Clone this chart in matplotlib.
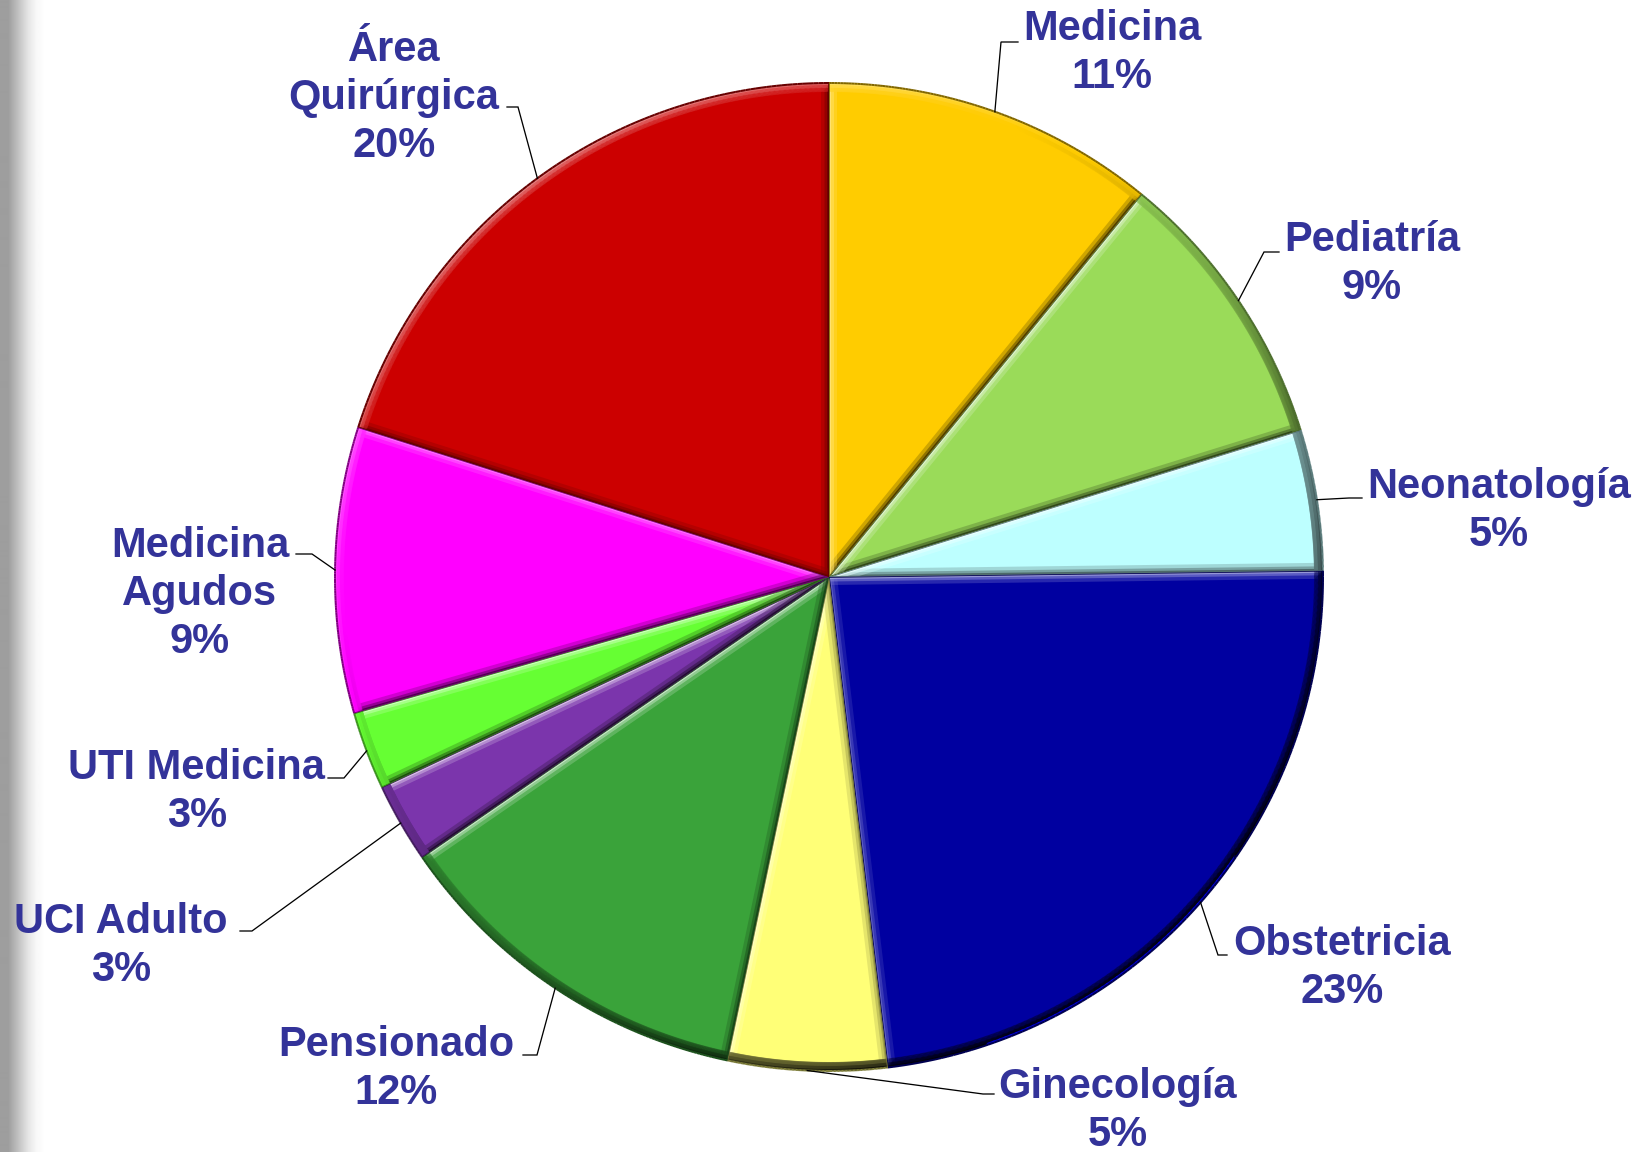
import numpy as np
import matplotlib
matplotlib.use('Agg')
import matplotlib.pyplot as plt
from matplotlib.collections import LineCollection
from matplotlib.colors import to_rgb

# ---------------- data ----------------
categories = ['Medicina', 'Pediatría', 'Neonatología', 'Obstetricia', 'Ginecología',
              'Pensionado', 'UCI Adulto', 'UTI Medicina', 'Medicina\nAgudos', 'Área\nQuirúrgica']
values = [10.9, 9.3, 4.6, 23.3, 5.2, 12.1, 2.6, 2.55, 9.35, 20.1]
colors = ['#FFCC00', '#9ADB59', '#BDFFFF', '#0000A0', '#FFFF77',
          '#3AA33A', '#7B35AC', '#66FF33', '#FF00FF', '#CC0000']

# ---------------- layout (pixels, y from top) ----------------
label_xy = [(1112, 53), (1372, 264), (1499, 511), (1342, 968), (1118, 1111),
            (396, 1069), (121, 946), (197, 792), (200, 594), (394, 98)]
leader_elbow = [(1001, 42), (1264, 252), (1349, 498), (1218, 955), (983, 1094),
                (537, 1055), (252, 931), (344, 778), (312, 554), (518, 107)]
leader_end = [(1018, 42), (1279, 252), (1362, 498), (1227, 955), (994, 1094),
              (523, 1055), (240, 931), (328, 778), (296, 554), (507, 107)]

W, H = 1649, 1152
DPI = 100
PX = 72.0 / DPI  # points per pixel

fig = plt.figure(figsize=(W / DPI, H / DPI), dpi=DPI)
fig.patch.set_facecolor('white')
ax = fig.add_axes([0, 0, 1, 1])

cx, cy, R = 829, H - 577, 494

wedges, _ = ax.pie(values, colors=colors, startangle=90, counterclock=False,
                   center=(cx, cy), radius=R,
                   wedgeprops=dict(linewidth=0))
ax.set_xlim(0, W)
ax.set_ylim(0, H)
ax.set_aspect('equal')
ax.axis('off')

# left gray strip
prof = np.interp(np.arange(46), [0, 8, 18, 28, 36, 45], [0.62, 0.62, 0.76, 0.9, 0.97, 1.0])
ax.imshow(np.tile(prof, (2, 1)), cmap='gray', vmin=0, vmax=1, extent=[0, 46, 0, H],
          aspect='auto', zorder=0, interpolation='bilinear')

# ---------------- bevel shading ----------------
Lvec = np.array([-0.6, 0.8])


def shade(color, k):
    c = np.array(to_rgb(color))
    if k > 0:
        return tuple(c + (1 - c) * k)
    return tuple(c * (1 + k))


for w, col in zip(wedges, colors):
    t1, t2 = np.deg2rad(w.theta1), np.deg2rad(w.theta2)
    # radial edges
    for t, sgn in ((t1, -1), (t2, 1)):
        n_out = np.array([np.cos(t + sgn * np.pi / 2), np.sin(t + sgn * np.pi / 2)])
        k = float(np.dot(n_out, Lvec))
        p0 = (cx, cy)
        p1 = (cx + R * np.cos(t), cy + R * np.sin(t))
        for lw, a, kk in ((16, 0.35, 0.55 * k), (9, 0.5, 0.7 * k), (4, 0.7, 0.85 * k)):
            ln, = ax.plot([p0[0], p1[0]], [p0[1], p1[1]], color=shade(col, kk),
                          lw=lw * PX, alpha=a, solid_capstyle='butt', zorder=3)
            ln.set_clip_path(w)
        ln, = ax.plot([p0[0], p1[0]], [p0[1], p1[1]], color=shade(col, -0.55),
                      lw=1.6 * PX, zorder=4)
        ln.set_clip_path(w)
    # arc
    ts = np.linspace(t1, t2, 120)
    pts = np.column_stack([cx + R * np.cos(ts), cy + R * np.sin(ts)])
    segs = np.stack([pts[:-1], pts[1:]], axis=1)
    tm = (ts[:-1] + ts[1:]) / 2
    ks = np.cos(tm) * Lvec[0] + np.sin(tm) * Lvec[1]
    for lw, a, f in ((18, 0.35, 0.5), (10, 0.5, 0.65), (4, 0.75, 0.8)):
        cols = [shade(col, f * kk - 0.25) + (a,) for kk in ks]
        lc = LineCollection(segs, colors=cols, linewidths=lw * PX, zorder=3,
                            capstyle='round')
        ax.add_collection(lc)
        lc.set_clip_path(w)
    lc = LineCollection(segs, colors=[shade(col, -0.5)], linewidths=2.0 * PX, zorder=4)
    ax.add_collection(lc)

# ---------------- labels ----------------
total = sum(values)
for w, cat, v, (lx, ly), (ex, ey), (kx, ky) in zip(wedges, categories, values,
                                                    label_xy, leader_elbow, leader_end):
    tm = np.deg2rad((w.theta1 + w.theta2) / 2)
    sx, sy = cx + R * np.cos(tm), cy + R * np.sin(tm)
    ax.plot([sx, ex, kx], [sy, H - ey, H - ky], color='black', lw=1.3 * PX, zorder=5,
            solid_joinstyle='miter')
    pct = f"{round(v / total * 100):.0f}%"
    ax.text(lx, H - ly, f"{cat}\n{pct}", ha='center', va='center', fontsize=30,
            fontweight='bold', color='#333399', family=['Liberation Sans', 'DejaVu Sans'],
            linespacing=1.25, zorder=6)

fig.savefig('out.png', dpi=DPI, facecolor='white')
